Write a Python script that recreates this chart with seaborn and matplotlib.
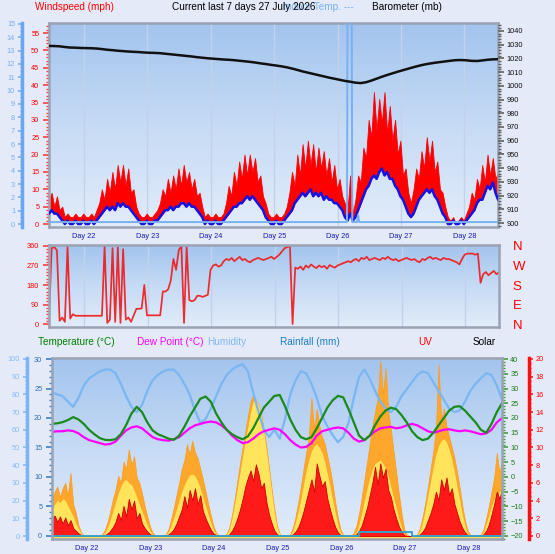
import numpy as np
import matplotlib
matplotlib.use("Agg")
import matplotlib.pyplot as plt
from matplotlib.colors import LinearSegmentedColormap
from matplotlib.ticker import MultipleLocator
import seaborn as sns

# ------------------------------------------------------------------ data
START_DAY = 21.448      # day of month at the left edge of the panels
END_DAY = 28.53

# hourly wind, mph (gust top of red area, blue = average)
gust = [7, 9, 5, 8, 4, 5,
        2, 3, 2, 2, 3, 2, 2, 3, 2, 2, 3, 2, 4,
        6, 10, 7, 13, 9, 15, 10, 17, 12, 17, 11, 16, 9, 10, 5,
        3, 2, 2, 3, 2, 2, 3, 4,
        6, 10, 8, 13, 9, 14, 10, 16, 11, 17, 12, 15, 10, 13, 8, 9, 5,
        2, 3, 2, 2, 3, 2, 2, 3,
        6, 11, 8, 15, 11, 18, 13, 20, 14, 20, 15, 19, 12, 14, 8, 6,
        3, 2, 2, 3, 2, 2, 3, 5,
        9, 15, 11, 20, 14, 23, 16, 24, 17, 23, 15, 22, 16, 21, 14, 19, 12, 17, 10, 13, 8, 6,
        4, 14, 3,
        7, 14, 12, 22, 19, 30, 25, 38, 27, 36, 29, 38, 26, 34, 24, 30, 20, 24, 14, 16, 9, 6,
        10, 16, 13, 21, 16, 25, 18, 24, 15, 18, 10, 9, 5,
        2, 1, 2, 0, 1, 2, 1, 3,
        5, 9, 7, 13, 10, 17, 12, 20, 14, 19, 13, 15]
wind_avg = [3, 4, 3, 3, 2, 1,
            0, 1, 0, 0, 1, 0, 0, 1, 0, 0, 1, 0, 1,
            2, 3, 4, 5, 4, 5, 4, 6, 5, 6, 5, 5, 4, 3, 2,
            1, 0, 0, 1, 0, 0, 1, 1,
            2, 3, 4, 4, 5, 4, 5, 5, 6, 6, 5, 6, 5, 5, 4, 3, 2,
            0, 1, 0, 0, 1, 0, 0, 1,
            2, 3, 4, 5, 5, 6, 6, 7, 8, 7, 8, 7, 6, 5, 4, 2,
            1, 0, 0, 1, 0, 0, 1, 2,
            3, 4, 6, 7, 8, 9, 8, 9, 10, 8, 9, 8, 9, 7, 8, 7, 7, 6, 6, 5, 4, 2,
            1, 3, 1,
            2, 4, 6, 8, 10, 11, 13, 14, 13, 15, 16, 14, 15, 13, 13, 11, 10, 8, 7, 5, 3, 2,
            3, 5, 7, 8, 9, 10, 9, 10, 8, 7, 5, 3, 2,
            0, 0, 1, 0, 0, 1, 0, 1,
            2, 3, 4, 6, 7, 7, 9, 11, 10, 12, 9, 7]

# indoor temp trace on the outer light blue scale (hour, value)
indoor_hours = [0, 112.8, 113.0, 114.6, 114.8, 116.6, 117.0, 117.4, 170]
indoor_vals = [0.15, 0.15, 16, 16, 0.15, 0.15, 0.7, 0.15, 0.15]

# barometer every 2 h (mb)
baro = [1029.1, 1029.0, 1028.8, 1028.3, 1027.9, 1027.8, 1027.6, 1027.5, 1027.4, 1027.2,
        1026.8, 1026.3, 1026.0, 1025.6, 1025.3, 1025.0, 1024.8, 1024.6, 1024.3, 1024.1,
        1024.0, 1023.8, 1023.4, 1023.0, 1022.6, 1022.2, 1021.8, 1021.4, 1020.9, 1020.5,
        1020.1, 1019.8, 1019.5, 1019.2, 1019.0, 1018.7, 1018.3, 1017.9, 1017.5, 1017.0,
        1016.4, 1015.9, 1015.3, 1014.8, 1014.2, 1013.5, 1012.6, 1011.6, 1010.5, 1009.6,
        1008.7, 1007.8, 1006.9, 1006.0, 1005.2, 1004.4, 1003.6, 1003.0, 1002.3, 1002.0,
        1002.6, 1003.8, 1005.2, 1006.6, 1007.9, 1009.1, 1010.3, 1011.4, 1012.5, 1013.6,
        1014.6, 1015.5, 1016.2, 1016.8, 1017.3, 1017.8, 1018.3, 1018.7, 1018.8, 1018.6,
        1018.2, 1018.1, 1018.5, 1019.0, 1019.3, 1019.4]

# wind direction hourly (degrees)
wind_dir = [20, 350, 355, 340, 15, 30, 10, 358, 25, 45,
            38, 38, 38, 38, 38, 38, 38, 38, 38, 38,
            38, 360, 5,
            20, 350, 10, 355, 5, 345, 20, 30, 10, 40,
            70, 70, 72, 180,
            40, 40, 40, 40, 40, 40,
            150, 150, 160, 200, 300, 250, 340, 360, 5, 355,
            110, 105, 110, 130, 130, 125, 130, 135,
            250, 270,
            275, 265, 270, 290, 300, 295, 305, 290, 300, 310,
            295, 300, 290, 285, 295, 300, 305, 300, 295, 300,
            305, 310, 300, 310, 320, 335, 350, 355,
            360, 0, 260,
            255, 265, 250, 270, 260, 275, 265, 258, 270, 262,
            268, 255, 272, 265, 260, 270, 275, 280, 285,
            290, 285, 295, 300, 290, 305, 300, 310, 295, 300,
            305, 300, 295, 305, 300, 310, 300, 295, 300, 290,
            295, 300, 305, 300, 295, 300, 290, 285,
            300, 295, 305, 310, 300, 305, 300, 295, 305, 300, 300, 295, 290, 285, 275,
            300, 320, 325, 325, 325, 320, 325,
            190,
            230, 240, 225, 235, 245, 230, 238]

# every 2 h: temperature / dew point (C), humidity (%), rainfall (mm)
temp = [18.0, 18.2, 18.6, 19.3, 20.3, 19.5, 18.0, 16.0, 14.5, 13.2,
        12.6, 12.5, 12.8, 14.5, 17.6, 21.5, 23.8, 22.0, 18.5, 15.8,
        14.5, 13.8, 13.0, 12.6, 14.0, 17.0, 20.5, 23.5, 26.5, 27.3,
        25.5, 21.5, 18.5, 16.0, 14.5, 13.5, 12.8, 13.8, 16.5, 20.0,
        23.5, 25.5, 27.5, 27.8, 24.0, 19.5, 16.0, 13.5, 12.8, 13.5,
        16.5, 20.0, 23.5, 26.0, 27.5, 27.0, 23.0, 18.5, 14.0, 12.5,
        14.0, 17.5, 20.5, 22.5, 23.5, 23.0, 21.0, 18.5, 15.5, 13.5,
        12.5, 13.0, 15.0, 17.5, 20.0, 22.5, 23.8, 24.0, 22.5, 20.5,
        18.5, 16.0, 15.0, 18.0, 22.0, 25.0]
dew = [15.3, 15.5, 15.5, 15.8, 15.6, 14.8,
       13.5, 12.5, 12.0, 11.5, 11.0, 11.2, 12.0,
       14.0, 15.8, 16.8, 17.2, 16.5, 15.0,
       13.5, 12.8, 12.5, 12.3, 12.8, 13.5, 15.0,
       16.5, 17.5, 18.0, 18.5, 18.8, 18.5, 17.5, 16.0,
       14.0, 12.5, 11.5, 11.8, 13.0, 14.5, 15.5,
       16.0, 16.5, 16.0, 14.5, 12.5, 11.0,
       10.0, 10.2, 11.5,
       14.0, 15.5, 16.0, 16.5, 16.8, 16.5, 15.0,
       13.0, 12.0, 12.5, 14.0,
       15.5, 16.5, 16.8, 17.0, 16.5, 16.8, 17.5,
       18.0, 17.5, 16.5, 15.5,
       15.0, 15.5, 16.0, 16.2, 15.8, 15.5, 15.8, 15.5, 15.0,
       14.5, 14.8, 16.0, 18.5, 20.0]
humidity = [81, 80, 79, 76, 73, 78, 85, 89, 91, 93,
            94, 94, 92, 86, 79, 73, 70, 74, 82, 88,
            91, 93, 94, 94, 91, 86, 80, 71, 64, 66,
            72, 79, 86, 91, 94, 96, 97, 93, 81, 70,
            60, 56, 60, 55, 66, 80, 88, 93, 92, 86,
            78, 68, 62, 57, 53, 56, 64, 78, 90, 94,
            89, 82, 76, 72, 70, 73, 79, 83, 87, 91,
            93, 92, 87, 82, 77, 72, 70, 71, 76, 82,
            86, 89, 92, 91, 85, 77]
rain = [0, 0, 0, 0, 0, 0, 0, 0, 0, 0,
        0, 0, 0, 0, 0, 0, 0, 0, 0, 0,
        0, 0, 0, 0, 0, 0, 0, 0, 0, 0,
        0, 0, 0, 0, 0, 0, 0, 0, 0, 0,
        0, 0, 0, 0, 0, 0, 0, 0, 0, 0,
        0, 0, 0, 0, 0, 0, 0, 0, 0.7, 0.7,
        0.7, 0.7, 0.7, 0.7, 0.7, 0.7, 0.7, 0.7, 0, 0,
        0, 0, 0, 0, 0, 0, 0, 0, 0, 0,
        0, 0, 0, 0, 0, 0]

# hourly solar (W/m2): orange = measured, yellow = sunshine part; UV index
solar = [200, 250, 280, 220, 270, 300, 230, 356, 180, 130, 60, 20, 4,
         0, 0, 0, 0, 0, 0,
         10, 35, 80, 140, 210, 260, 340, 300, 420, 380, 490, 400, 450, 330, 300, 240, 170, 110, 55, 18, 4,
         0, 0, 0,
         10, 40, 95, 160, 230, 300, 380, 430, 520, 460, 540, 470, 440, 380, 320, 250, 180, 115, 55, 18, 4,
         0, 0,
         15, 50, 120, 210, 310, 410, 500, 590, 680, 760, 800, 770, 740, 690, 600, 500, 380, 260, 150, 60, 12,
         0, 0, 0,
         10, 50, 110, 190, 280, 380, 470, 560, 780, 600, 720, 620, 560, 520, 450, 380, 290, 190, 100, 35, 5,
         0, 0, 0,
         20, 60, 130, 220, 320, 420, 520, 620, 700, 780, 990, 800, 950, 700, 600, 480, 360, 240, 130, 40, 8,
         0, 0, 0,
         10, 45, 110, 190, 280, 380, 480, 600, 970, 650, 720, 620, 560, 500, 440, 360, 270, 170, 85, 30, 5,
         0, 0, 0,
         10, 40, 100, 170, 250, 330, 470, 360, 420]
solar_sun = [150, 180, 200, 190, 210, 200, 170, 140, 110, 70, 40, 15, 3,
             0, 0, 0, 0, 0, 0,
             5, 20, 50, 90, 140, 190, 240, 280, 310, 320, 300, 290, 260, 220, 180, 140, 100, 60, 30, 10, 2,
             0, 0, 0,
             5, 25, 60, 100, 150, 200, 250, 290, 320, 345, 350, 340, 310, 270, 220, 170, 120, 75, 35, 12, 2,
             0, 0,
             10, 40, 100, 180, 270, 360, 450, 540, 620, 700, 760, 770, 740, 680, 590, 480, 360, 240, 130, 50, 10,
             0, 0, 0,
             5, 30, 80, 140, 210, 290, 370, 430, 480, 510, 520, 500, 470, 420, 350, 280, 200, 130, 60, 20, 3,
             0, 0, 0,
             5, 25, 70, 130, 200, 270, 330, 380, 410, 420, 430, 410, 380, 340, 280, 220, 160, 100, 50, 15, 3,
             0, 0, 0,
             5, 30, 80, 150, 230, 310, 390, 460, 510, 540, 550, 530, 490, 430, 360, 280, 200, 120, 55, 15, 3,
             0, 0, 0,
             5, 25, 70, 120, 170, 210, 230, 250, 260]
uv = [2.0, 2.3, 1.6, 2.2, 1.4, 2.1, 1.2, 1.8, 0.9, 0.6, 0.3, 0.1, 0,
      0, 0, 0, 0, 0, 0,
      0, 0.1, 0.3, 0.6, 1.0, 1.6, 2.6, 1.8, 3.4, 2.2, 4.2, 3.0, 4.0, 2.0, 2.6, 1.4, 0.9, 0.5, 0.2, 0.1, 0,
      0, 0, 0,
      0, 0.2, 0.4, 0.8, 1.4, 2.2, 3.0, 4.5, 3.2, 5.2, 4.0, 5.4, 3.6, 4.6, 2.8, 2.0, 1.3, 0.7, 0.3, 0.1, 0,
      0, 0,
      0, 0.2, 0.6, 1.2, 2.0, 3.0, 4.2, 5.6, 6.6, 7.4, 6.2, 8.1, 7.0, 5.4, 6.0, 3.8, 2.4, 1.4, 0.6, 0.2, 0,
      0, 0, 0,
      0, 0.2, 0.5, 1.0, 1.8, 2.8, 4.0, 5.2, 6.4, 5.0, 8.2, 6.8, 5.6, 6.2, 4.2, 3.0, 1.9, 1.0, 0.4, 0.1, 0,
      0, 0, 0,
      0, 0.2, 0.6, 1.2, 2.2, 3.2, 4.6, 6.0, 7.8, 5.8, 8.2, 6.6, 7.6, 5.2, 4.4, 3.0, 2.0, 1.1, 0.5, 0.1, 0,
      0, 0, 0,
      0, 0.2, 0.5, 1.0, 1.8, 2.6, 3.6, 5.0, 4.0, 6.4, 5.2, 6.6, 4.6, 5.4, 3.6, 2.6, 1.6, 0.9, 0.4, 0.1, 0,
      0, 0, 0,
      0, 0.2, 0.6, 1.3, 2.4, 3.6, 5.0, 4.2, 5.3]

day_ticks = [22, 23, 24, 25, 26, 27, 28]
day_labels = ['Day %d' % d for d in day_ticks]
compass_deg = [0, 90, 180, 270, 360]
compass_lbl = ['N', 'E', 'S', 'W', 'N']

# ------------------------------------------------------------------ style
sns.set_style("white")
plt.rcParams['font.family'] = ['Liberation Sans', 'DejaVu Sans']

BG = '#e5eaf8'
FRAME = '#9aa2b4'
TICK_FS = 5.3
W, H = 555, 554

t1 = START_DAY + np.arange(len(gust)) / 24.0
t2 = START_DAY + np.arange(len(baro)) * 2 / 24.0
t_in = START_DAY + np.array(indoor_hours) / 24.0

fig = plt.figure(figsize=(W / 100, H / 100), dpi=100, facecolor=BG)


def box(l, t, r, b):
    return [l / W, 1 - b / H, (r - l) / W, (b - t) / H]


def gradient_bg(pos):
    bg = fig.add_axes(pos, zorder=-5)
    cmap = LinearSegmentedColormap.from_list('bg', ['#a3c4ee', '#c6dbf5', '#e2ecfa'])
    bg.imshow(np.linspace(0, 1, 200)[:, None], aspect='auto', cmap=cmap,
              extent=[0, 1, 0, 1])
    bg.axis('off')


def frame(ax):
    for s in ax.spines.values():
        s.set_color(FRAME)
        s.set_linewidth(1.8)


def hide_spines(ax):
    for s in ax.spines.values():
        s.set_visible(False)


def y_ticks(ax, major, minor, color, labelcolor, side='left', length=4, pad=2):
    ax.yaxis.set_major_locator(MultipleLocator(major))
    ax.yaxis.set_minor_locator(MultipleLocator(minor))
    lft = side == 'left'
    ax.tick_params(axis='y', which='major', length=length, width=1.2, color=color,
                   labelcolor=labelcolor, labelsize=TICK_FS, pad=pad,
                   left=lft, right=not lft, labelleft=lft, labelright=not lft)
    ax.tick_params(axis='y', which='minor', length=length * 0.6, width=1.0, color=color,
                   left=lft, right=not lft)


def x_days(ax, labels=True):
    ax.set_xlim(START_DAY, END_DAY)
    ax.set_xticks(day_ticks)
    ax.set_xticks(np.arange(21.5, 28.6, 0.25), minor=True)
    ax.set_xticklabels(day_labels if labels else [])
    ax.tick_params(axis='x', which='major', length=3, width=1, color='#8890a0',
                   labelcolor='#1a1ab0', labelsize=TICK_FS, pad=1.5)
    ax.tick_params(axis='x', which='minor', length=2, width=1, color='#8890a0')
    if not labels:
        ax.tick_params(axis='x', which='both', length=0)
    ax.grid(True, axis='x', which='major', color='#c3d2ea', lw=1)
    ax.set_axisbelow(True)


def ftext(x, y, s, color, size=7.2):
    fig.text(x / W, 1 - y / H, s, color=color, fontsize=size, va='center', ha='left')


# ------------------------------------------------------------------ top panel: wind + barometer
pos_top = box(49, 23, 498, 227)
gradient_bg(pos_top)
ax1 = fig.add_axes(pos_top)
ax1.set_facecolor('none')
ax1.fill_between(t1, wind_avg, gust, color='#ff0000', lw=0.6, edgecolor='#ff0000', zorder=2)
sns.lineplot(x=t1, y=wind_avg, ax=ax1, color='#1414e6', linewidth=1.8, zorder=3)
ax1.set_ylim(-0.86, 57.9)
y_ticks(ax1, 5, 1, '#ff4040', '#ff0000', 'left', length=4, pad=3)
x_days(ax1)
frame(ax1)
ax1.set_xlabel('')
ax1.set_ylabel('')

ax_in = ax1.twinx()
sns.lineplot(x=t_in, y=indoor_vals, ax=ax_in, color='#78b0f4', linewidth=1.4)
ax_in.set_ylim(-0.22, 15.07)
hide_spines(ax_in)
ax_in.spines['left'].set_visible(True)
ax_in.spines['left'].set_position(('outward', 19.4))
ax_in.spines['left'].set_color('#6aa6f2')
ax_in.spines['left'].set_linewidth(2.5)
ax_in.yaxis.tick_left()
y_ticks(ax_in, 1, 0.25, '#7aaef0', '#7aaef0', 'left', length=3, pad=2)
ax_in.set_ylabel('')

ax_b = ax1.twinx()
sns.lineplot(x=t2, y=baro, ax=ax_b, color='#111111', linewidth=1.8)
ax_b.set_ylim(897.1, 1045.8)
hide_spines(ax_b)
y_ticks(ax_b, 10, 2, '#606060', '#101010', 'right', length=4, pad=2)
ax_b.set_ylabel('')

# ------------------------------------------------------------------ middle panel: wind direction
pos_mid = box(49, 245, 499, 327)
gradient_bg(pos_mid)
ax2 = fig.add_axes(pos_mid)
ax2.set_facecolor('none')
sns.lineplot(x=t1, y=wind_dir, ax=ax2, color='#f01818', linewidth=1.25, alpha=0.9)
ax2.set_ylim(-13.8, 364.6)
y_ticks(ax2, 90, 15, '#ff4040', '#ff0000', 'left', length=4, pad=3)
x_days(ax2, labels=False)
frame(ax2)
ax2.set_ylabel('')

ax2r = ax2.twinx()
ax2r.set_ylim(-13.8, 364.6)
ax2r.set_yticks(compass_deg)
ax2r.set_yticklabels(compass_lbl)
ax2r.tick_params(axis='y', length=0, labelsize=9.5, labelcolor='#ff0000', pad=10)
hide_spines(ax2r)

# ------------------------------------------------------------------ bottom panel
pos_bot = box(52, 358, 502, 539)
gradient_bg(pos_bot)
ax3 = fig.add_axes(pos_bot, zorder=5)
ax3.set_facecolor('none')

ax_sol = ax3.twinx()
ax_sol.set_zorder(1)
ax_sol.set_ylim(-17, 1005.7)
ax_sol.axhspan(-17, 0, color='#ffe05a', lw=0)
ax_sol.fill_between(t1, 0, solar, color='#ffa72a', lw=0.5, edgecolor='#ff9a20')
ax_sol.fill_between(t1, 0, solar_sun, color='#ffe45c', lw=0)
ax_sol.set_yticks([])
hide_spines(ax_sol)
x_days(ax_sol, labels=False)
ax_sol.tick_params(axis='x', which='both', length=0, labelbottom=False)

ax_uv = ax3.twinx()
ax_uv.set_zorder(2)
ax_uv.fill_between(t1, 0, uv, color='#ff1a1a', lw=0.6, edgecolor='#d00000')
ax_uv.set_ylim(-0.34, 20.11)
hide_spines(ax_uv)
ax_uv.spines['right'].set_visible(True)
ax_uv.spines['right'].set_position(('outward', 19.4))
ax_uv.spines['right'].set_color('#ff1010')
ax_uv.spines['right'].set_linewidth(2.5)
y_ticks(ax_uv, 2, 0.5, '#ff2020', '#ff0000', 'right', length=3, pad=2)

ax_h = ax3.twinx()
ax_h.set_zorder(2.5)
sns.lineplot(x=t2, y=humidity, ax=ax_h, color='#7ab6f2', linewidth=1.6)
ax_h.set_ylim(-1.69, 100.56)
hide_spines(ax_h)
ax_h.spines['left'].set_visible(True)
ax_h.spines['left'].set_position(('outward', 18))
ax_h.spines['left'].set_color('#7fb4f2')
ax_h.spines['left'].set_linewidth(2.5)
ax_h.yaxis.tick_left()
y_ticks(ax_h, 10, 2, '#88baf2', '#88baf2', 'left', length=3, pad=2)
ax_h.set_ylabel('')

ax_t = ax3.twinx()
ax_t.set_zorder(3)
sns.lineplot(x=t2, y=dew, ax=ax_t, color='#ff00ff', linewidth=1.6)
sns.lineplot(x=t2, y=temp, ax=ax_t, color='#1a8a1a', linewidth=1.6)
ax_t.set_ylim(-21.02, 40.34)
hide_spines(ax_t)
y_ticks(ax_t, 5, 1, '#40a040', '#1a7a1a', 'right', length=4, pad=2)
ax_t.set_ylabel('')

sns.lineplot(x=t2, y=rain, ax=ax3, color='#3aa0c8', linewidth=1.4, drawstyle='steps-post')
ax3.set_ylim(-0.51, 30.17)
y_ticks(ax3, 5, 1, '#3a80c8', '#2a70b8', 'left', length=4, pad=3)
x_days(ax3)
ax3.grid(False)
frame(ax3)
ax3.set_ylabel('')

for a in (ax_sol, ax_uv, ax_t, ax_h, ax_in, ax_b, ax2r):
    a.set_xlim(START_DAY, END_DAY)

# ------------------------------------------------------------------ headings
ftext(35, 7, 'Windspeed (mph)', '#ff0000')
ftext(283, 7, 'Indoor Temp. ---', '#7ab0f0')
ftext(172, 7, 'Current last 7 days 27 July 2026', '#000000')
ftext(372, 7, 'Barometer (mb)', '#000000')

ftext(38, 342, 'Temperature (°C)', '#008000')
ftext(137, 342, 'Dew Point (°C)', '#ff00ff')
ftext(207, 342, 'Humidity', '#80b8f0')
ftext(280, 342, 'Rainfall (mm)', '#1e80c0')
ftext(418, 342, 'UV', '#ff0000')
ftext(473, 342, 'Solar', '#000000')

fig.savefig('out.png', dpi=100, facecolor=BG)
